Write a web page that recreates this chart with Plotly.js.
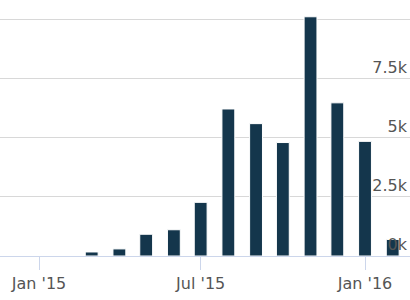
<!DOCTYPE html>
<html>
<head>
<meta charset="utf-8">
<script src="https://cdn.plot.ly/plotly-3.0.1.min.js"></script>
<style>html,body{margin:0;padding:0;background:#fff;}#chart{width:410px;height:300px;}</style>
</head>
<body>
<div id="chart"></div>
<script>
const months = ['2015-03-01','2015-04-01','2015-05-01','2015-06-01','2015-07-01','2015-08-01','2015-09-01','2015-10-01','2015-11-01','2015-12-01','2016-01-01','2016-02-01'];
const values = [170, 300, 920, 1110, 2270, 6220, 5600, 4800, 10120, 6480, 4850, 700];
const xTickVals = ['2015-01-01','2015-07-01','2016-01-01'];
const xTickText = ["Jan '15", "Jul '15", "Jan '16"];
const yTickVals = [0, 2500, 5000, 7500, 10000];
const yTickText = ['0k', '2.5k', '5k', '7.5k', ''];

const DAY = 86400000;
const trace = {
  type: 'bar',
  x: months,
  y: values,
  width: months.map(() => 14.4 * DAY),
  marker: {color: '#14364c', line: {color: '#ffffff', width: 1}},
  hoverinfo: 'x+y'
};
const layout = {
  width: 410, height: 300,
  margin: {l: 0, r: 0, t: 0, b: 44, pad: 0},
  paper_bgcolor: '#ffffff', plot_bgcolor: '#ffffff',
  showlegend: false,
  font: {family: 'DejaVu Sans, sans-serif', size: 16, color: '#555555'},
  xaxis: {
    type: 'date',
    range: ['2014-11-18 08:00', '2016-02-20 08:40'],
    tickvals: xTickVals, ticktext: xTickText,
    ticks: 'outside', ticklen: 13, tickcolor: '#ccd6eb', tickwidth: 1,
    showline: true, linecolor: '#ccd6eb', linewidth: 1,
    showgrid: false, zeroline: false,
    tickfont: {size: 16, color: '#555555'}
  },
  yaxis: {
    range: [0, 10830],
    side: 'right',
    tickvals: yTickVals, ticktext: yTickText,
    ticklabelposition: 'inside top',
    ticks: '',
    showgrid: true, gridcolor: '#d8d8d8', gridwidth: 1,
    zeroline: false, showline: false,
    tickfont: {size: 16, color: '#555555'}
  },
  bargap: 0
};
Plotly.newPlot('chart', [trace], layout, {displayModeBar: false, staticPlot: true});
</script>
</body>
</html>
